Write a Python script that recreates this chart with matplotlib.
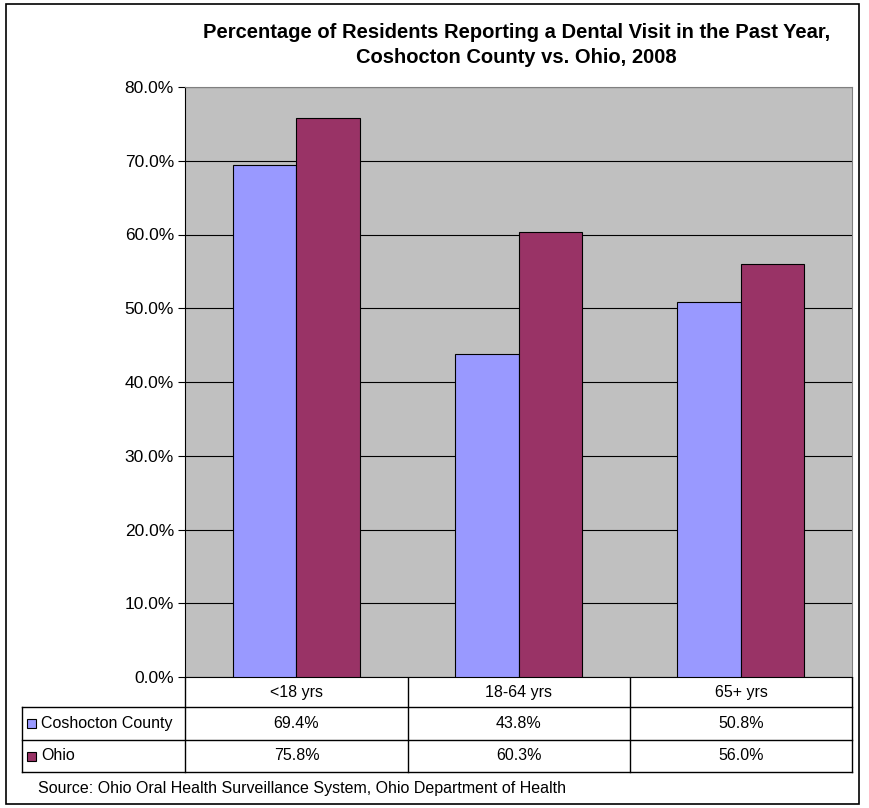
import matplotlib.pyplot as plt
import numpy as np

plt.rcParams['font.family'] = ['Liberation Sans', 'DejaVu Sans']

# datos
grupos = ['<18 yrs', '18-64 yrs', '65+ yrs']
series = ['Coshocton County', 'Ohio']
coshocton = [69.4, 43.8, 50.8]
ohio = [75.8, 60.3, 56.0]
colores = ['#9999FF', '#993366']
titulo = 'Percentage of Residents Reporting a Dental Visit in the Past Year,\nCoshocton County vs. Ohio, 2008'
fuente = 'Source: Ohio Oral Health Surveillance System, Ohio Department of Health'

W, H = 869, 808
fig = plt.figure(figsize=(W / 100, H / 100), dpi=100)

def caja(x0, y0, x1, y1):
    # convertir pixeles (arriba-izquierda) a fraccion de figura
    return [x0 / W, 1 - y1 / H, (x1 - x0) / W, (y1 - y0) / H]

# marco exterior
marco = fig.add_axes([0, 0, 1, 1])
marco.set_xlim(0, W)
marco.set_ylim(H, 0)
marco.axis('off')
marco.add_patch(plt.Rectangle((6, 4), 853, 800, fill=False, lw=1.2, ec='black'))

# grafico de barras
ax = fig.add_axes(caja(185, 87, 852, 677))
ax.set_facecolor('#C0C0C0')
x = np.arange(len(grupos))
ancho = 0.285
ax.bar(x - ancho / 2, coshocton, ancho, color=colores[0], edgecolor='black', lw=0.8, zorder=3)
ax.bar(x + ancho / 2, ohio, ancho, color=colores[1], edgecolor='black', lw=0.8, zorder=3)
ax.set_xlim(-0.5, len(grupos) - 0.5)
ax.set_ylim(0, 80)
ax.set_yticks(np.arange(0, 81, 10))
ax.set_yticklabels(['%.1f%%' % v for v in np.arange(0, 81, 10)], fontsize=12.5)
ax.yaxis.grid(True, color='black', lw=0.8, zorder=1)
ax.set_xticks([])
ax.tick_params(axis='y', length=5, width=0.8, pad=3)
for s in ['top', 'right']:
    ax.spines[s].set_color('#808080')
ax.spines['left'].set_color('black')
ax.spines['bottom'].set_color('black')

fig.text(0.594, 1 - 45 / H, titulo, ha='center', va='center', fontsize=14.5,
         fontweight='bold', linespacing=1.45)

# tabla de datos
tb = fig.add_axes(caja(20, 677, 854, 774))
tb.set_xlim(20, 854)
tb.set_ylim(774, 677)
tb.axis('off')
cols = [185, 408, 630, 852]
filas = [677, 707, 740, 772]
for cx in cols:
    tb.plot([cx, cx], [677, 772], color='black', lw=1)
tb.plot([22, 22], [707, 772], color='black', lw=1)
for fy in filas[1:]:
    tb.plot([22, 852], [fy, fy], color='black', lw=1)
for i, g in enumerate(grupos):
    xc = (cols[i] + cols[i + 1]) / 2
    tb.text(xc, 692, g, ha='center', va='center', fontsize=11.5)
    tb.text(xc, 723.5, '%.1f%%' % coshocton[i], ha='center', va='center', fontsize=11.5)
    tb.text(xc, 756, '%.1f%%' % ohio[i], ha='center', va='center', fontsize=11.5)
for j, (nombre, col) in enumerate(zip(series, colores)):
    yc = (filas[j + 1] + filas[j + 2]) / 2
    tb.add_patch(plt.Rectangle((27, yc - 4.5), 9, 9, fc=col, ec='black', lw=0.8))
    tb.text(41, yc, nombre, ha='left', va='center', fontsize=11.5)

fig.text(38 / W, 1 - 788 / H, fuente, ha='left', va='center', fontsize=11.5)

fig.savefig('out.png', dpi=100)
